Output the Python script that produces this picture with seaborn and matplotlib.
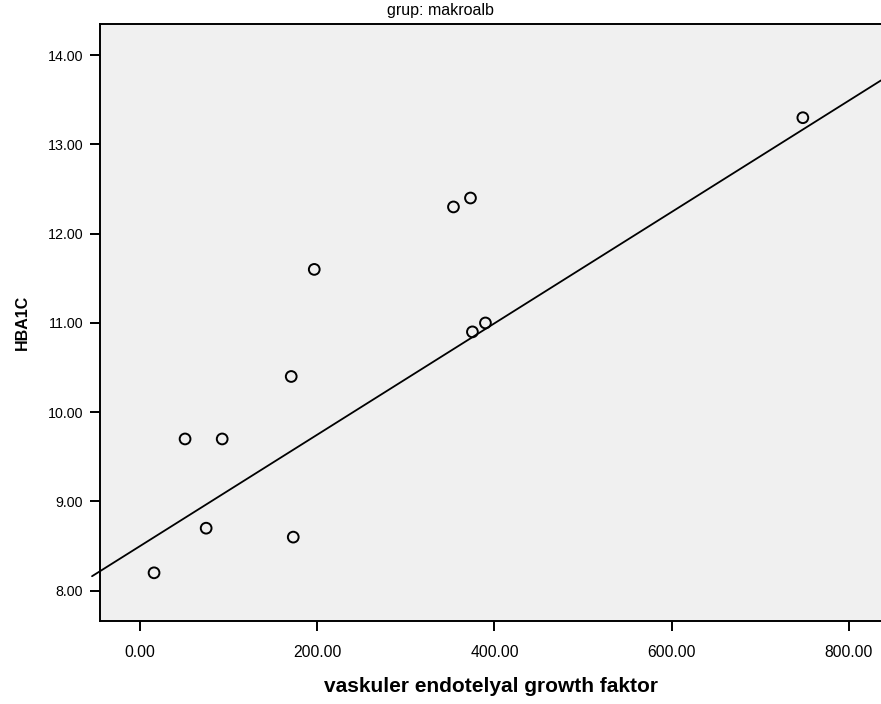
import matplotlib
matplotlib.use("Agg")
import matplotlib.pyplot as plt
import seaborn as sns
import numpy as np
import pandas as pd

# ---- data ----
vegf = [15.8, 50.8, 92.7, 74.6, 170.6, 172.9, 196.6, 353.7, 372.9, 375.1, 389.8, 748.0]
hba1c = [8.2, 9.7, 9.7, 8.7, 10.4, 8.6, 11.6, 12.3, 12.4, 10.9, 11.0, 13.3]
fit_intercept = 8.50
fit_slope = 0.00624
x_ticks = [0, 200, 400, 600, 800]
y_ticks = [8, 9, 10, 11, 12, 13, 14]
panel_title = "grup: makroalb"
x_label = "vaskuler endotelyal growth faktor"
y_label = "HBA1C"

sns.set_style("white")
plt.rcParams["font.family"] = ["Liberation Sans", "DejaVu Sans"]

W, H = 881, 704
fig = plt.figure(figsize=(W / 100, H / 100), dpi=100)
ax = fig.add_axes([100 / W, 1 - 621 / H, (881 - 100) / W, (621 - 24) / H])
ax.set_facecolor("#F0F0F0")

df = pd.DataFrame({"x": vegf, "y": hba1c})
xlim = (-45.2, 836.2)
ylim = (7.66, 14.35)

fx = np.array([xlim[0] - 9, xlim[1]])
fit_df = pd.DataFrame({"x": fx, "y": fit_intercept + fit_slope * fx})
sns.lineplot(data=fit_df, x="x", y="y", ax=ax, color="black", linewidth=1.3,
             clip_on=False, zorder=2)

sns.scatterplot(data=df, x="x", y="y", ax=ax, marker="o", s=60,
                facecolor="none", edgecolor="black", linewidth=1.4, zorder=3)

ax.set_xlim(*xlim)
ax.set_ylim(*ylim)
ax.set_xticks(x_ticks)
ax.set_xticklabels([f"{v:.2f}" for v in x_ticks], fontsize=11.3)
ax.set_yticks(y_ticks)
ax.set_yticklabels([f"{v:.2f}" for v in y_ticks], fontsize=10.3)

for s in ["left", "top", "bottom"]:
    ax.spines[s].set_color("black")
    ax.spines[s].set_linewidth(1.4)
ax.spines["right"].set_visible(False)

ax.tick_params(axis="both", which="both", direction="out", length=7, width=1.4,
               color="black", labelcolor="black")
ax.tick_params(axis="y", pad=5, left=True)
ax.tick_params(axis="x", pad=10, bottom=True)

ax.set_xlabel(x_label, fontsize=15, fontweight="bold", color="black")
ax.xaxis.set_label_coords(0.5, (621 - 687) / 597)
ax.xaxis.label.set_va("center")
ax.set_ylabel(y_label, fontsize=11.5, fontweight="bold", color="black")
ax.yaxis.set_label_coords((22 - 100) / 781, 0.5)
ax.yaxis.label.set_va("center")

fig.text(440 / W, 1 - 10 / H, panel_title, ha="center", va="center",
         fontsize=11.5, color="black")

fig.savefig("out.png", dpi=100)
